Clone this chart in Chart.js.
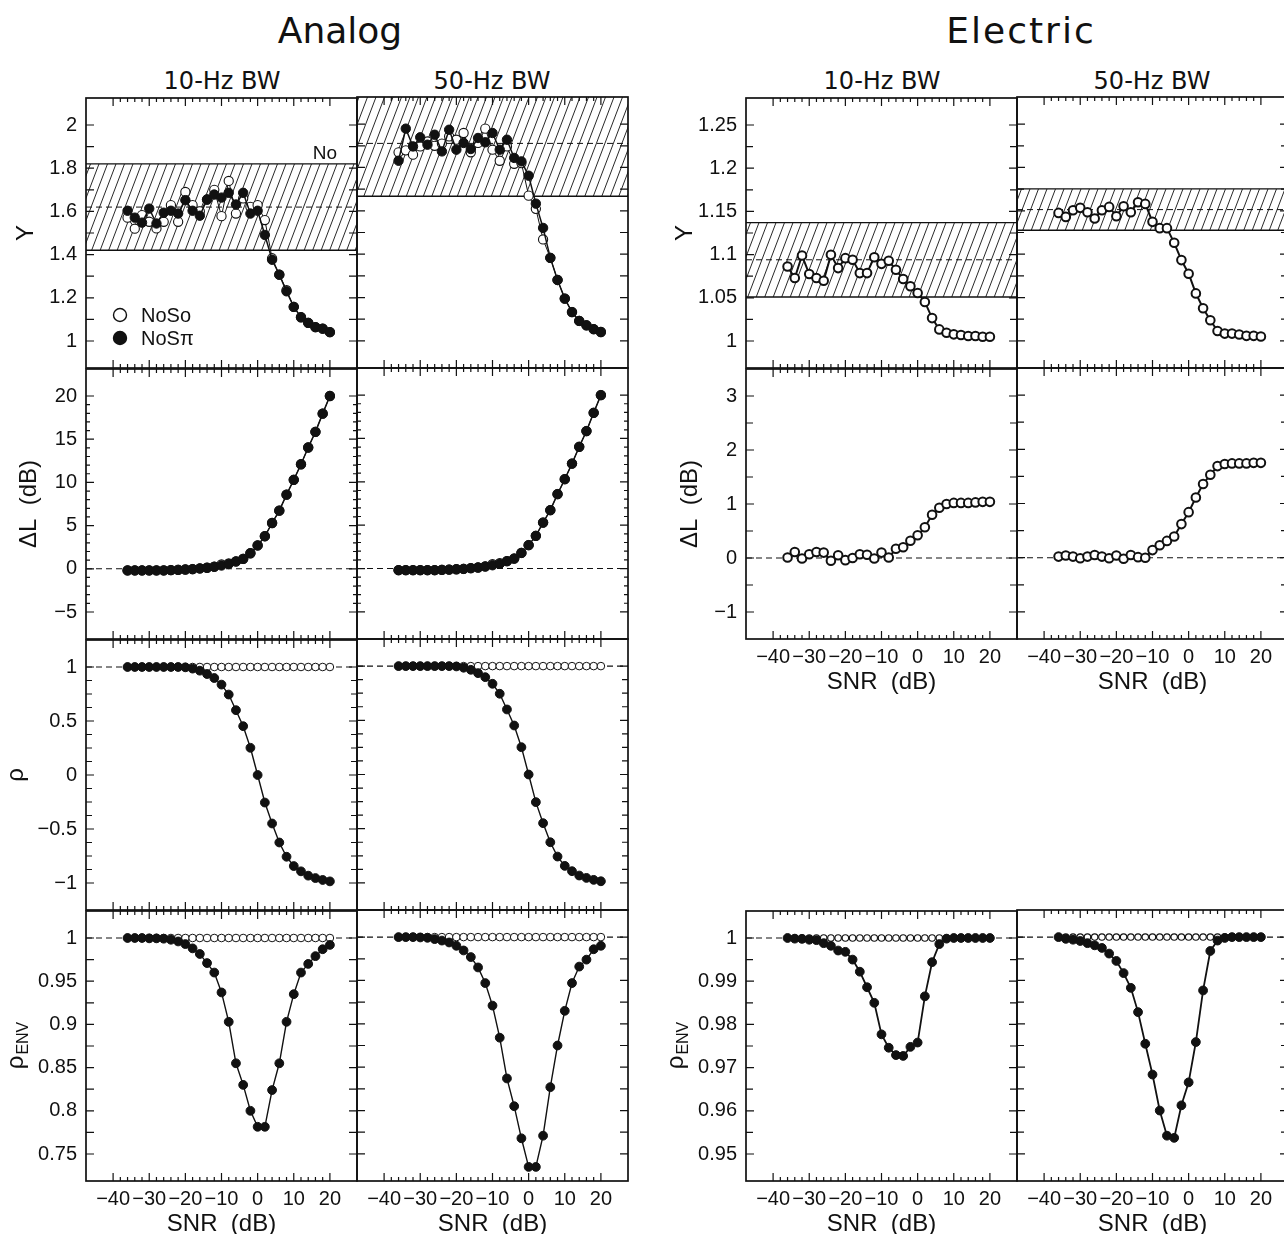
<!DOCTYPE html>
<html>
<head>
<meta charset="utf-8">
<script src="https://cdn.jsdelivr.net/npm/chart.js@4"></script>
<style>
  html, body { margin: 0; padding: 0; background: #fff; }
  body { width: 1284px; height: 1234px; overflow: hidden; position: relative; }
  canvas { position: absolute; }
  .ttl { position: absolute; transform: translateX(-50%); white-space: nowrap; color: #111;
         font-family: "DejaVu Sans", sans-serif; line-height: 1; }
</style>
</head>
<body>
<div class="ttl" style="left:340px; top:13px; font-size:36px;">Analog</div>
<div class="ttl" style="left:1021px; top:13px; font-size:36px; letter-spacing:2px;">Electric</div>
<div class="ttl" style="left:222px; top:69px; font-size:24px;">10-Hz BW</div>
<div class="ttl" style="left:492px; top:69px; font-size:24px;">50-Hz BW</div>
<div class="ttl" style="left:882px; top:69px; font-size:24px;">10-Hz BW</div>
<div class="ttl" style="left:1152px; top:69px; font-size:24px;">50-Hz BW</div>
<script>
// SNR (dB) of every point
const snr = [-36, -34, -32, -30, -28, -26, -24, -22, -20, -18, -16, -14, -12, -10, -8, -6, -4, -2, 0, 2, 4, 6, 8, 10, 12, 14, 16, 18, 20];
const xLabels = [-40, -30, -20, -10, 0, 10, 20];

// analog, Y
const anaY10So  = [1.571, 1.52, 1.583, 1.552, 1.521, 1.552, 1.629, 1.552, 1.69, 1.629, 1.60, 1.655, 1.70, 1.578, 1.741, 1.59, 1.66, 1.621, 1.629, 1.56, 1.383, 1.307, 1.235, 1.158, 1.11, 1.084, 1.064, 1.057, 1.041];
const anaY10Spi = [1.603, 1.571, 1.548, 1.613, 1.544, 1.594, 1.603, 1.59, 1.652, 1.603, 1.58, 1.655, 1.678, 1.664, 1.686, 1.632, 1.686, 1.59, 1.603, 1.491, 1.376, 1.307, 1.23, 1.158, 1.11, 1.084, 1.064, 1.057, 1.041];
const anaY50So  = [1.870, 1.879, 1.859, 1.897, 1.92, 1.90, 1.91, 1.943, 1.928, 1.959, 1.870, 1.913, 1.979, 1.882, 1.831, 1.897, 1.817, 1.82, 1.67, 1.609, 1.468, 1.383, 1.281, 1.195, 1.133, 1.092, 1.072, 1.054, 1.041];
const anaY50Spi = [1.831, 1.979, 1.897, 1.939, 1.905, 1.951, 1.874, 1.974, 1.882, 1.913, 1.885, 1.936, 1.916, 1.959, 1.882, 1.928, 1.844, 1.828, 1.762, 1.633, 1.521, 1.383, 1.281, 1.195, 1.133, 1.092, 1.072, 1.054, 1.041];
// NoSo band: low, mean, high
const anaBand10 = [1.42, 1.62, 1.82];
const anaBand50 = [1.667, 1.911, 2.155];

// analog, delta L (dB)
const anaDL10So  = [-0.19, -0.19, -0.19, -0.19, -0.19, -0.19, -0.15, -0.12, -0.08, -0.04, 0.04, 0.12, 0.25, 0.5, 0.62, 0.85, 1.15, 1.8, 2.7, 3.77, 5.3, 6.73, 8.58, 10.3, 12.1, 14.04, 15.85, 17.96, 20.0];
const anaDL10Spi = [-0.19, -0.19, -0.19, -0.19, -0.19, -0.19, -0.15, -0.12, -0.08, -0.04, 0.04, 0.12, 0.23, 0.38, 0.55, 0.85, 1.15, 1.8, 2.7, 3.77, 5.3, 6.73, 8.58, 10.3, 12.1, 14.04, 15.85, 17.96, 20.0];
const anaDL50So  = [-0.19, -0.19, -0.19, -0.19, -0.19, -0.19, -0.15, -0.12, -0.08, -0.04, 0.04, 0.12, 0.25, 0.5, 0.62, 0.85, 1.15, 1.8, 2.7, 3.77, 5.3, 6.73, 8.58, 10.3, 12.1, 14.04, 15.85, 17.96, 20.0];
const anaDL50Spi = [-0.19, -0.19, -0.19, -0.19, -0.19, -0.19, -0.15, -0.12, -0.08, -0.04, 0.04, 0.12, 0.23, 0.38, 0.55, 0.85, 1.15, 1.8, 2.7, 3.77, 5.3, 6.73, 8.58, 10.3, 12.1, 14.04, 15.85, 17.96, 20.0];

// analog, rho
const anaRhoSo   = [1, 1, 1, 1, 1, 1, 1, 1, 1, 1, 1, 1, 1, 1, 1, 1, 1, 1, 1, 1, 1, 1, 1, 1, 1, 1, 1, 1, 1];
const anaRho10Spi = [1, 1, 1, 1, 1, 1, 1, 1, 0.997, 0.985, 0.966, 0.935, 0.898, 0.837, 0.745, 0.6, 0.452, 0.252, 0.0, -0.255, -0.449, -0.625, -0.757, -0.843, -0.892, -0.932, -0.954, -0.972, -0.985];
const anaRho50Spi = [1, 1, 1, 1, 1, 1, 1, 1, 0.997, 0.985, 0.966, 0.935, 0.898, 0.837, 0.745, 0.6, 0.452, 0.252, 0.0, -0.255, -0.449, -0.625, -0.757, -0.843, -0.892, -0.932, -0.954, -0.972, -0.985];

// analog, rho ENV
const anaEnvSo   = [1, 1, 1, 1, 1, 1, 1, 1, 1, 1, 1, 1, 1, 1, 1, 1, 1, 1, 1, 1, 1, 1, 1, 1, 1, 1, 1, 1, 1];
const anaEnv10Spi = [1.0, 1.0, 1.0, 0.9996, 0.9996, 0.9992, 0.998, 0.996, 0.993, 0.988, 0.9815, 0.971, 0.96, 0.937, 0.903, 0.855, 0.83, 0.80, 0.7815, 0.7815, 0.824, 0.855, 0.903, 0.935, 0.960, 0.970, 0.979, 0.987, 0.992];
const anaEnv50Spi = [1.0, 1.0, 1.0, 0.9996, 0.9992, 0.9977, 0.996, 0.9938, 0.990, 0.9846, 0.977, 0.965, 0.947, 0.921, 0.884, 0.837, 0.805, 0.768, 0.735, 0.735, 0.771, 0.827, 0.875, 0.915, 0.947, 0.966, 0.974, 0.986, 0.990];

// electric
const eleY10So = [1.0863, 1.0729, 1.0989, 1.0775, 1.0729, 1.0698, 1.0997, 1.0844, 1.0959, 1.094, 1.0786, 1.0786, 1.097, 1.0893, 1.0928, 1.0824, 1.0717, 1.0633, 1.0556, 1.0452, 1.0265, 1.0134, 1.0096, 1.0077, 1.0069, 1.0058, 1.0058, 1.005, 1.005];
const eleY50So = [1.1476, 1.143, 1.1507, 1.1534, 1.1484, 1.1411, 1.1507, 1.1545, 1.1438, 1.1553, 1.1484, 1.1599, 1.158, 1.1373, 1.13, 1.13, 1.1131, 1.0932, 1.0775, 1.0548, 1.0376, 1.0238, 1.0115, 1.0084, 1.0084, 1.0073, 1.0058, 1.0058, 1.005];
const eleBand10 = [1.051, 1.094, 1.137];
const eleBand50 = [1.1276, 1.1514, 1.1753];
const eleDL10So = [0.01, 0.11, -0.01, 0.07, 0.11, 0.1, -0.05, 0.05, -0.04, 0.0, 0.07, 0.06, -0.01, 0.1, 0.01, 0.17, 0.2, 0.32, 0.42, 0.57, 0.8, 0.93, 1.0, 1.02, 1.02, 1.02, 1.03, 1.04, 1.04];
const eleDL50So = [0.02, 0.04, 0.02, -0.01, 0.02, 0.05, 0.02, -0.01, 0.04, -0.02, 0.05, 0.01, 0.0, 0.14, 0.23, 0.31, 0.39, 0.62, 0.84, 1.11, 1.36, 1.53, 1.69, 1.73, 1.74, 1.74, 1.74, 1.75, 1.75];
const eleEnvSo    = [1, 1, 1, 1, 1, 1, 1, 1, 1, 1, 1, 1, 1, 1, 1, 1, 1, 1, 1, 1, 1, 1, 1, 1, 1, 1, 1, 1, 1];
const eleEnv10Spi = [1.0, 0.99985, 0.9998, 0.9996, 0.9995, 0.9988, 0.9982, 0.9971, 0.9968, 0.995, 0.9922, 0.9886, 0.985, 0.9777, 0.9746, 0.9729, 0.9727, 0.9748, 0.9758, 0.9865, 0.9944, 0.9986, 0.99985, 1, 1, 1, 1, 1, 1];
const eleEnv50Spi = [1.0, 0.9996, 0.9994, 0.9991, 0.9986, 0.9981, 0.9975, 0.9962, 0.9945, 0.9917, 0.9883, 0.9827, 0.9754, 0.9683, 0.96, 0.9542, 0.9537, 0.9612, 0.9665, 0.9758, 0.9877, 0.9968, 0.9992, 0.9998, 1, 1, 1, 1, 1];

// tick labels of the y axes
const anaYTicks   = [1, 1.2, 1.4, 1.6, 1.8, 2];
const anaDLTicks  = [-5, 0, 5, 10, 15, 20];
const anaRhoTicks = [-1, -0.5, 0, 0.5, 1];
const anaEnvTicks = [0.75, 0.8, 0.85, 0.9, 0.95, 1];
const eleYTicks   = [1, 1.05, 1.1, 1.15, 1.2, 1.25];
const eleDLTicks  = [-1, 0, 1, 2, 3];
const eleEnvTicks = [0.95, 0.96, 0.97, 0.98, 0.99, 1];

const INK = '#111';
const FONT = '"Liberation Sans", Arial, sans-serif';
const colX = [86, 357, 746, 1017];
const rowY = [97, 368, 639, 910];
const SIDE = 271;
const PADL = 90, PADT = 20, PADR = 20, PADB = 65;

function fmt(v) {
  return String(Math.round(v * 10000) / 10000).replace('-', '\u2212');
}

function hLine(ctx, a, py, lw, dash) {
  ctx.lineWidth = lw;
  ctx.setLineDash(dash || []);
  ctx.beginPath();
  ctx.moveTo(a.left, py);
  ctx.lineTo(a.right, py);
  ctx.stroke();
  ctx.setLineDash([]);
}

const deco = {
  id: 'deco',
  beforeDatasetsDraw(chart) {
    const o = chart.options.plugins.deco;
    const { ctx, chartArea: a } = chart;
    const y = chart.scales.y;
    ctx.save();
    ctx.beginPath();
    ctx.rect(a.left, a.top, a.width, a.height);
    ctx.clip();
    ctx.strokeStyle = INK;
    if (o.band) {
      const yLo = y.getPixelForValue(o.band[0]);
      const yMid = y.getPixelForValue(o.band[1]);
      const yHi = y.getPixelForValue(o.band[2]);
      const dx = (yLo - yHi) * 0.38;
      ctx.save();
      ctx.beginPath();
      ctx.rect(a.left, yHi, a.width, yLo - yHi);
      ctx.clip();
      ctx.lineWidth = 0.9;
      ctx.beginPath();
      for (let k = a.left - dx - 4; k < a.right + 4; k += 8.5) {
        ctx.moveTo(k, yLo);
        ctx.lineTo(k + dx, yHi);
      }
      ctx.stroke();
      ctx.restore();
      hLine(ctx, a, yLo, 1.4);
      hLine(ctx, a, yHi, 1.4);
      hLine(ctx, a, yMid, 1, [6, 4]);
    }
    if (o.ref != null) hLine(ctx, a, y.getPixelForValue(o.ref), 1.1, [6, 4]);
    ctx.restore();
  },
  afterDraw(chart) {
    const o = chart.options.plugins.deco;
    const { ctx, chartArea: a } = chart;
    const x = chart.scales.x, y = chart.scales.y;
    ctx.save();
    ctx.strokeStyle = INK;
    ctx.fillStyle = INK;
    // inward ticks on all four sides
    ctx.lineWidth = 1.2;
    ctx.beginPath();
    for (let v = xLabels[0]; v <= xLabels[xLabels.length - 1]; v += 2) {
      const px = x.getPixelForValue(v);
      const len = v % 10 === 0 ? 8 : 4;
      ctx.moveTo(px, a.top); ctx.lineTo(px, a.top + len);
      ctx.moveTo(px, a.bottom); ctx.lineTo(px, a.bottom - len);
    }
    const t0 = o.yLabels[0], t1 = o.yLabels[o.yLabels.length - 1];
    const n = Math.round((t1 - t0) / o.yStep);
    for (let i = 0; i <= n; i++) {
      const v = t0 + i * o.yStep;
      const major = o.yLabels.some(l => Math.abs(l - v) < 1e-9);
      const len = major ? 8 : o.yMinorLen;
      const py = y.getPixelForValue(v);
      ctx.moveTo(a.left, py); ctx.lineTo(a.left + len, py);
      ctx.moveTo(a.right, py); ctx.lineTo(a.right - len, py);
    }
    ctx.stroke();
    ctx.lineWidth = 1.7;
    ctx.strokeRect(a.left, a.top, a.width, a.height);

    ctx.textAlign = 'center';
    ctx.textBaseline = 'middle';
    if (o.xTitle) {
      ctx.font = '24px ' + FONT;
      ctx.fillText('SNR  (dB)', (a.left + a.right) / 2, a.bottom + 43);
    }
    if (o.yTitle) {
      ctx.save();
      ctx.translate(a.left + o.yTitle.dx, (a.top + a.bottom) / 2);
      ctx.rotate(-Math.PI / 2);
      ctx.font = '24px ' + FONT;
      if (o.yTitle.sub) {
        const w1 = ctx.measureText(o.yTitle.text).width;
        ctx.font = '16px ' + FONT;
        const w2 = ctx.measureText(o.yTitle.sub).width;
        const start = -(w1 + w2) / 2;
        ctx.textAlign = 'left';
        ctx.font = '24px ' + FONT;
        ctx.fillText(o.yTitle.text, start, 0);
        ctx.font = '16px ' + FONT;
        ctx.fillText(o.yTitle.sub, start + w1 + 1, 8);
      } else {
        ctx.fillText(o.yTitle.text, 0, 0);
      }
      ctx.restore();
    }
    if (o.note) {
      ctx.font = '19px ' + FONT;
      ctx.textAlign = 'right';
      ctx.textBaseline = 'alphabetic';
      ctx.fillText(o.note, a.right - 20, y.getPixelForValue(o.band[2]) - 5);
    }
    if (o.legend) {
      const items = [['NoSo', '#fff'], ['NoS\u03c0', INK]];
      ctx.font = '20px ' + FONT;
      ctx.textAlign = 'left';
      ctx.textBaseline = 'middle';
      items.forEach(([label, fillC], i) => {
        const cy = a.top + 217 + i * 23;
        ctx.beginPath();
        ctx.arc(a.left + 34, cy, 6.5, 0, Math.PI * 2);
        ctx.fillStyle = fillC;
        ctx.fill();
        ctx.lineWidth = 1.4;
        ctx.stroke();
        ctx.fillStyle = INK;
        ctx.fillText(label, a.left + 55, cy + 1);
      });
    }
    ctx.restore();
  }
};

function series(vals, filled, mk) {
  return {
    data: snr.map((s, i) => ({ x: s, y: vals[i] })),
    borderColor: INK,
    borderWidth: filled ? mk.lwF : mk.lwO,
    pointRadius: filled ? mk.rF : mk.rO,
    pointBorderWidth: filled ? 1 : mk.pbw,
    pointBackgroundColor: filled ? INK : '#fff',
    pointBorderColor: INK,
    tension: 0,
    fill: false
  };
}

function makePanel(p) {
  const cv = document.createElement('canvas');
  cv.width = PADL + SIDE + PADR;
  cv.height = PADT + SIDE + PADB;
  cv.style.left = (colX[p.col] - PADL) + 'px';
  cv.style.top = (rowY[p.row] - PADT) + 'px';
  document.body.appendChild(cv);
  const tickFont = { family: FONT, size: 20 };
  new Chart(cv, {
    type: 'line',
    data: { datasets: p.sets.map(([vals, filled]) => series(vals, filled, p.mk)) },
    options: {
      responsive: false,
      animation: false,
      devicePixelRatio: 1,
      layout: { padding: { left: 0, top: PADT, right: PADR, bottom: 0 } },
      plugins: {
        legend: { display: false },
        tooltip: { enabled: false },
        deco: {
          yLabels: p.yLabels, yStep: p.yStep, yMinorLen: p.yMinorLen || 7,
          band: p.band, ref: p.ref, note: p.note, legend: p.legend,
          xTitle: p.showX, yTitle: p.showY ? p.yTitle : null
        }
      },
      scales: {
        x: {
          type: 'linear', min: -47.5, max: 27.5,
          grid: { display: false, drawTicks: false },
          border: { display: false },
          afterBuildTicks: s => { s.ticks = xLabels.map(v => ({ value: v })); },
          afterFit: s => { s.height = PADB; },
          ticks: { display: !!p.showX, autoSkip: false, maxRotation: 0, minRotation: 0,
                   padding: 6, color: INK, font: tickFont, callback: v => fmt(v) }
        },
        y: {
          type: 'linear', min: p.yMin, max: p.yMax,
          grid: { display: false, drawTicks: false },
          border: { display: false },
          afterBuildTicks: s => { s.ticks = p.yLabels.map(v => ({ value: v })); },
          afterFit: s => { s.width = PADL; },
          ticks: { display: !!p.showY, autoSkip: false, padding: 9, color: INK,
                   font: tickFont, callback: v => fmt(v) }
        }
      }
    },
    plugins: [deco]
  });
}

const mkAY = { rF: 4.7, rO: 4.6, pbw: 1.1, lwF: 1.5, lwO: 1 };
const mkAR = { rF: 4.4, rO: 3.8, pbw: 1, lwF: 1.4, lwO: 1 };
const mkE  = { rF: 4.3, rO: 4.3, pbw: 2, lwF: 1.8, lwO: 2 };
const mkEE = { rF: 4.4, rO: 3.2, pbw: 1.1, lwF: 1.8, lwO: 1 };

const anaY   = { yMin: 0.875, yMax: 2.125, yLabels: anaYTicks, yStep: 0.1, yMinorLen: 8, yTitle: { text: 'Y', dx: -60 } };
const anaDL  = { yMin: -8.125, yMax: 23.125, yLabels: anaDLTicks, yStep: 1, yMinorLen: 4, ref: 0, yTitle: { text: '\u0394L  (dB)', dx: -57 } };
const anaRho = { yMin: -1.25, yMax: 1.25, yLabels: anaRhoTicks, yStep: 0.125, yMinorLen: 6, ref: 1, yTitle: { text: '\u03c1', dx: -70 } };
const anaEnv = { yMin: 0.71875, yMax: 1.03125, yLabels: anaEnvTicks, yStep: 0.025, yMinorLen: 8, ref: 1, yTitle: { text: '\u03c1', sub: 'ENV', dx: -70 } };
const eleY   = { yMin: 0.96875, yMax: 1.28125, yLabels: eleYTicks, yStep: 0.025, yMinorLen: 7, yTitle: { text: 'Y', dx: -61 } };
const eleDL  = { yMin: -1.5, yMax: 3.5, yLabels: eleDLTicks, yStep: 0.5, yMinorLen: 7, ref: 0, yTitle: { text: '\u0394L  (dB)', dx: -56 } };
const eleEnv = { yMin: 0.94375, yMax: 1.00625, yLabels: eleEnvTicks, yStep: 0.005, yMinorLen: 7, ref: 1, yTitle: { text: '\u03c1', sub: 'ENV', dx: -70 } };

const panels = [
  { ...anaY, col: 0, row: 0, showY: true, band: anaBand10, note: 'No', legend: true, mk: mkAY, sets: [[anaY10Spi, true], [anaY10So, false]] },
  { ...anaY, col: 1, row: 0, band: anaBand50, mk: mkAY, sets: [[anaY50Spi, true], [anaY50So, false]] },
  { ...anaDL, col: 0, row: 1, showY: true, mk: mkAY, sets: [[anaDL10Spi, true], [anaDL10So, false]] },
  { ...anaDL, col: 1, row: 1, mk: mkAY, sets: [[anaDL50Spi, true], [anaDL50So, false]] },
  { ...anaRho, col: 0, row: 2, showY: true, mk: mkAR, sets: [[anaRho10Spi, true], [anaRhoSo, false]] },
  { ...anaRho, col: 1, row: 2, mk: mkAR, sets: [[anaRho50Spi, true], [anaRhoSo, false]] },
  { ...anaEnv, col: 0, row: 3, showY: true, showX: true, mk: mkAR, sets: [[anaEnv10Spi, true], [anaEnvSo, false]] },
  { ...anaEnv, col: 1, row: 3, showX: true, mk: mkAR, sets: [[anaEnv50Spi, true], [anaEnvSo, false]] },
  { ...eleY, col: 2, row: 0, showY: true, band: eleBand10, mk: mkE, sets: [[eleY10So, false]] },
  { ...eleY, col: 3, row: 0, band: eleBand50, mk: mkE, sets: [[eleY50So, false]] },
  { ...eleDL, col: 2, row: 1, showY: true, showX: true, mk: mkE, sets: [[eleDL10So, false]] },
  { ...eleDL, col: 3, row: 1, showX: true, mk: mkE, sets: [[eleDL50So, false]] },
  { ...eleEnv, col: 2, row: 3, showY: true, showX: true, mk: mkEE, sets: [[eleEnv10Spi, true], [eleEnvSo, false]] },
  { ...eleEnv, col: 3, row: 3, showX: true, mk: mkEE, sets: [[eleEnv50Spi, true], [eleEnvSo, false]] }
];

panels.forEach(makePanel);
</script>
</body>
</html>
